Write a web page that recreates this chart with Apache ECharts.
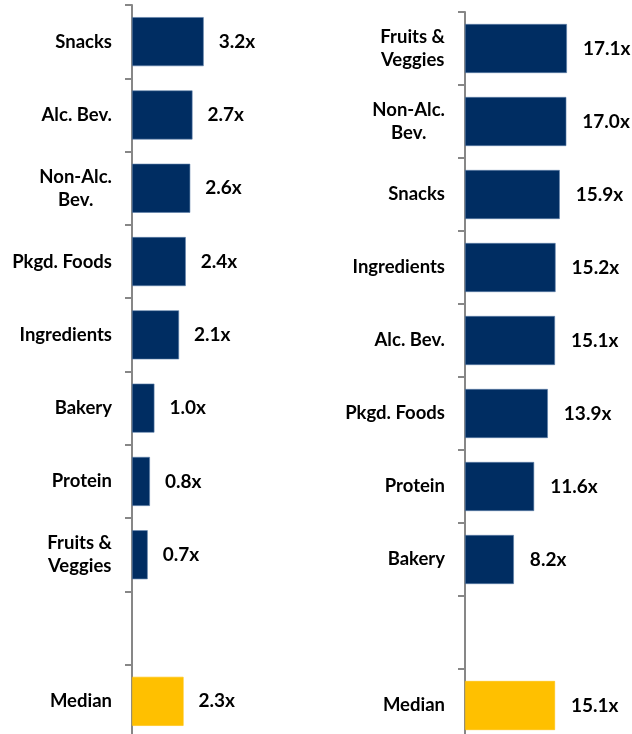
<!DOCTYPE html>
<html>
<head>
<meta charset="utf-8">
<script src="https://cdn.jsdelivr.net/npm/echarts@6/dist/echarts.min.js"></script>
<style>
  html, body { margin: 0; padding: 0; background: #fff; }
  #chart { width: 632px; height: 734px; }
</style>
</head>
<body>
<div id="chart"></div>
<script>
  // left panel
  var leftCategories = ['Snacks', 'Alc. Bev.', 'Non-Alc.\nBev.', 'Pkgd. Foods', 'Ingredients', 'Bakery', 'Protein', 'Fruits &\nVeggies', '', 'Median'];
  var leftValues = [3.2, 2.7, 2.6, 2.4, 2.1, 1.0, 0.8, 0.7, null, 2.3];
  // right panel
  var rightCategories = ['Fruits &\nVeggies', 'Non-Alc.\nBev.', 'Snacks', 'Ingredients', 'Alc. Bev.', 'Pkgd. Foods', 'Protein', 'Bakery', '', 'Median'];
  var rightValues = [17.1, 17.0, 15.9, 15.2, 15.1, 13.9, 11.6, 8.2, null, 15.1];

  var navy = '#002D62';
  var gold = '#FFC000';
  var font = 'Lato';

  function barData(cats, vals) {
    return vals.map(function (v, i) {
      return {
        value: v,
        itemStyle: { color: cats[i] === 'Median' ? gold : navy, borderColor: cats[i] === 'Median' ? gold : '#5D7FAA', borderWidth: 0.6 }
      };
    });
  }

  function catAxis(idx, cats) {
    return {
      type: 'category',
      gridIndex: idx,
      inverse: true,
      data: cats,
      axisLine: { lineStyle: { color: '#878787', width: 2 } },
      axisTick: { show: true, length: 7, lineStyle: { color: '#878787', width: 2 } },
      axisLabel: {
        margin: 20,
        formatter: function (v) { return '{c|' + v + '}'; },
        rich: {
          c: { align: 'center', fontFamily: font, fontWeight: 'bold', fontSize: 18.5, color: '#000', lineHeight: 23 }
        }
      }
    };
  }

  function valLabel(dist) {
    return {
      show: true,
      position: 'right',
      distance: dist,
      fontFamily: font,
      fontWeight: 'bold',
      fontSize: 19,
      color: '#000',
      formatter: function (p) { return p.value.toFixed(1) + 'x'; }
    };
  }

  var myChart = echarts.init(document.getElementById('chart'));
  myChart.setOption({
    animation: false,
    grid: [
      { left: 132, top: 5, width: 134.4, height: 733, outerBoundsMode: 'none' },
      { left: 465, top: 12, width: 119.2, height: 730, outerBoundsMode: 'none' }
    ],
    xAxis: [
      { type: 'value', gridIndex: 0, min: 0, max: 6, show: false },
      { type: 'value', gridIndex: 1, min: 0, max: 20, show: false }
    ],
    yAxis: [catAxis(0, leftCategories), catAxis(1, rightCategories)],
    series: [
      {
        type: 'bar',
        xAxisIndex: 0,
        yAxisIndex: 0,
        barWidth: 49,
        data: barData(leftCategories, leftValues),
        label: valLabel(15)
      },
      {
        type: 'bar',
        xAxisIndex: 1,
        yAxisIndex: 1,
        barWidth: 49,
        data: barData(rightCategories, rightValues),
        label: valLabel(16)
      }
    ]
  });
</script>
</body>
</html>
